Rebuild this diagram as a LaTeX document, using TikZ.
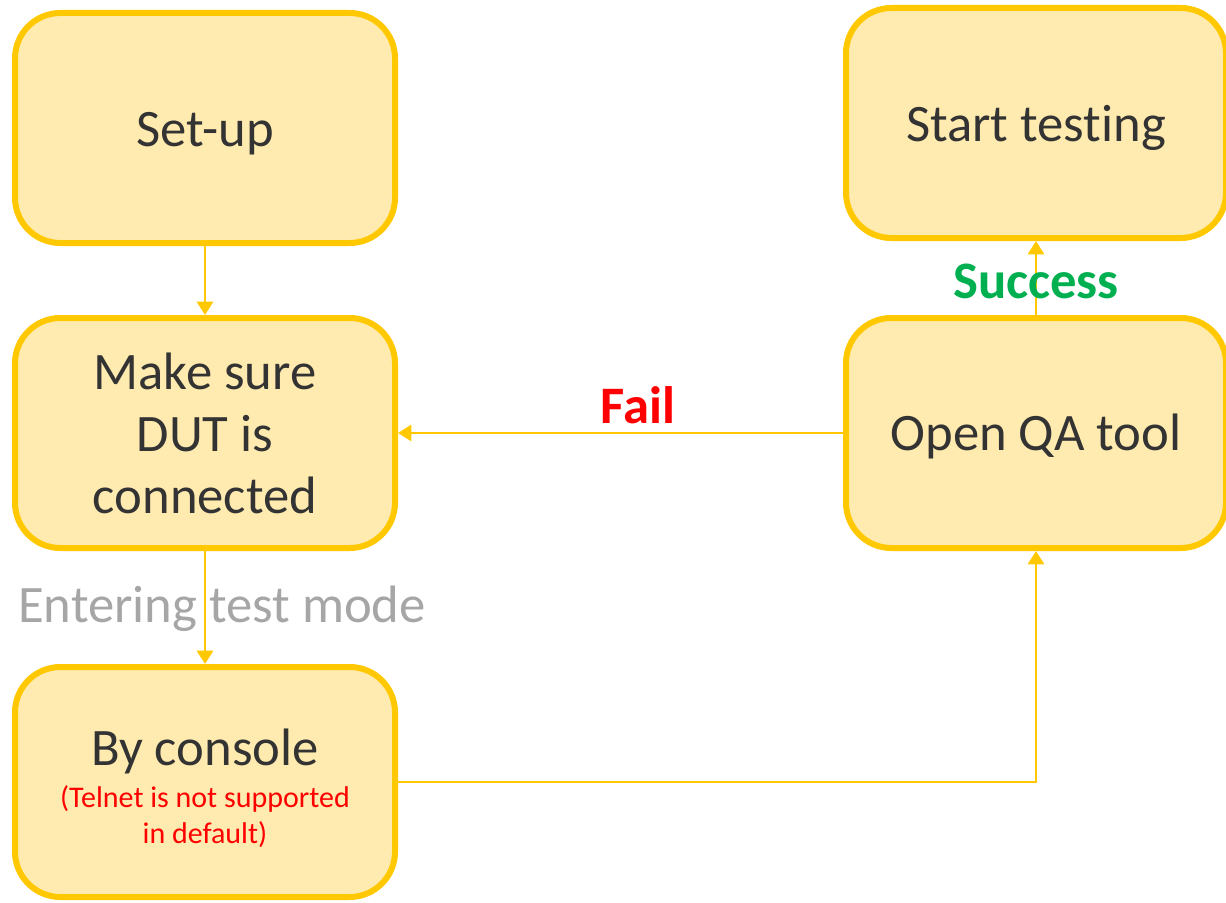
\documentclass[tikz,border=0pt]{standalone}
\usepackage{fontspec}
\setmainfont{Carlito}[Ligatures={NoCommon,NoRequired}]
\usetikzlibrary{arrows.meta}
\definecolor{boxfill}{HTML}{FFEBAF}
\definecolor{gold}{HTML}{FFC800}
\definecolor{txt}{HTML}{333333}
\definecolor{greytxt}{HTML}{A6A6A6}
\definecolor{failred}{HTML}{FF0000}
\definecolor{okgreen}{HTML}{00B050}
\tikzset{
  stepbox/.style={rectangle, rounded corners=34pt, draw=gold, line width=4.5pt,
    fill=boxfill, minimum width=285pt, minimum height=172.5pt, align=center,
    text=txt, font=\fontsize{39.5}{46.5}\selectfont, inner sep=0pt},
  conn/.style={draw=gold, line width=2.2pt, -{Triangle[length=10pt,width=12pt]}},
  biglabel/.style={font=\fontsize{39.5}{46.5}\selectfont, anchor=base, inner sep=0pt},
  smalllabel/.style={font=\fontsize{22.5}{27}\selectfont, text=failred, anchor=base, inner sep=0pt}
}
\begin{document}
\begin{tikzpicture}[x=0.75pt,y=-0.75pt]
\useasboundingbox (0,0) rectangle (1226,902);
\node[stepbox] (setup) at (205,128) {\raisebox{-4pt}[\height][\depth]{Set-up}};
\node[stepbox] (make) at (205,433) {Make sure\\DUT is\\connected};
\node[stepbox] (console) at (205,782) {};
\node[stepbox] (start) at (1036,123) {\raisebox{-4pt}[\height][\depth]{Start testing}};
\node[stepbox] (open) at (1036,433) {\raisebox{-2.5pt}[\height][\depth]{Open QA tool}};
\node[biglabel, text=txt] (bycon) at (205,765) {By console};
\node[smalllabel] (tel1) at (205,807) {(Telnet is not supported};
\node[smalllabel] (tel2) at (205,843) {in default)};
\draw[conn] (setup.south) -- (make.north);
\draw[conn] (make.south) -- (console.north);
\draw[conn] (open.west) -- (make.east);
\draw[conn] (open.north) -- (start.south);
\draw[conn] (console.east) -| (open.south);
\node[biglabel, text=greytxt] (enter) at (222,622) {Entering test mode};
\node[biglabel, text=failred, font=\bfseries\fontsize{39.5}{46.5}\selectfont] (fail) at (638,423) {Fail};
\node[biglabel, text=okgreen, font=\bfseries\fontsize{39.5}{46.5}\selectfont] (succ) at (1036,298) {Success};
\end{tikzpicture}
\end{document}
